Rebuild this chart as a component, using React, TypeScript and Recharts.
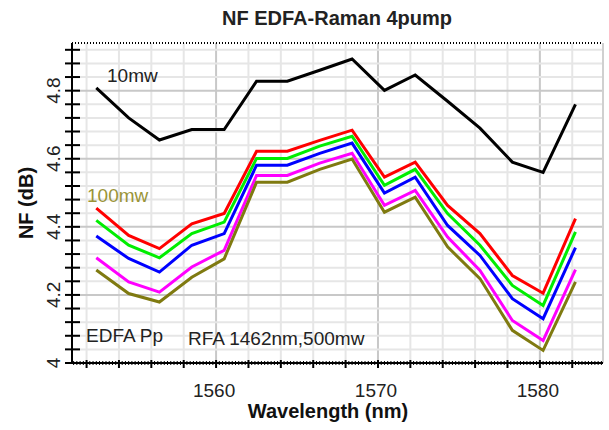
import { LineChart, Line, XAxis, YAxis, ReferenceLine } from 'recharts';

// wavelengths (nm) of the measured points
const wavelength = [1552.6, 1554.6, 1556.5, 1558.5, 1560.5, 1562.5, 1564.4, 1566.4, 1568.4, 1570.4, 1572.3, 1574.3, 1576.3, 1578.3, 1580.2, 1582.2];

// NF (dB) per EDFA pump power
const nf10mw = [4.808, 4.72, 4.655, 4.686, 4.686, 4.828, 4.828, 4.86, 4.893, 4.801, 4.846, 4.769, 4.69, 4.59, 4.56, 4.76];
const nfRed = [4.455, 4.375, 4.336, 4.409, 4.439, 4.622, 4.622, 4.654, 4.684, 4.546, 4.59, 4.463, 4.38, 4.257, 4.205, 4.424];
const nfGreen = [4.419, 4.346, 4.309, 4.38, 4.414, 4.601, 4.601, 4.637, 4.666, 4.522, 4.569, 4.439, 4.346, 4.228, 4.169, 4.385];
const nfBlue = [4.373, 4.307, 4.267, 4.346, 4.38, 4.581, 4.581, 4.616, 4.646, 4.499, 4.546, 4.404, 4.316, 4.189, 4.13, 4.339];
const nfMagenta = [4.309, 4.238, 4.208, 4.282, 4.331, 4.551, 4.551, 4.587, 4.616, 4.463, 4.507, 4.37, 4.272, 4.125, 4.066, 4.274];
const nf100mw = [4.273, 4.204, 4.179, 4.252, 4.306, 4.531, 4.531, 4.569, 4.599, 4.443, 4.487, 4.341, 4.248, 4.096, 4.037, 4.238];

const xLabels = [1560, 1570, 1580];
const yLabels = [4, 4.2, 4.4, 4.6, 4.8];

const X_MIN = 1551.1;
const X_MAX = 1583.9;
const Y_MIN = 4;
const Y_MAX = 4.94;

const data = wavelength.map((w, i) => ({
  w,
  p10: nf10mw[i],
  red: nfRed[i],
  green: nfGreen[i],
  blue: nfBlue[i],
  magenta: nfMagenta[i],
  p100: nf100mw[i],
}));

const series = [
  { key: 'p10', color: '#000000' },
  { key: 'red', color: '#ff0000' },
  { key: 'green', color: '#00ee00' },
  { key: 'blue', color: '#0000ff' },
  { key: 'magenta', color: '#ff00ff' },
  { key: 'p100', color: '#7f7a10' },
];

// tick positions: minor x ticks every 0.2 nm, y ticks every 0.04 dB
const xTicks = Array.from({ length: 164 }, (_, i) => Math.round((1551.2 + i * 0.2) * 10) / 10);
const yTicks = Array.from({ length: 24 }, (_, i) => Math.round((4 + i * 0.04) * 100) / 100);
const xGrid = Array.from({ length: 16 }, (_, i) => 1552 + i * 2);

const near = (a: number, b: number) => Math.abs(a - b) < 1e-6;
const font = 'Arial, "Liberation Sans", sans-serif';

function XTick({ x, y, payload }: any) {
  const v = payload.value;
  const even = near(v / 2, Math.round(v / 2));
  const label = xLabels.find((l) => near(l, v));
  return (
    <g>
      <line x1={x} x2={x} y1={even ? y - 3 : y - 2} y2={even ? y + 5 : y + 2} stroke="#000" strokeWidth={even ? 2 : 1} />
      {label !== undefined && (
        <text x={x - 2} y={y + 34} textAnchor="middle" fontSize={19} fontFamily={font} fill="#222">
          {label}
        </text>
      )}
    </g>
  );
}

function YTick({ x, y, payload }: any) {
  const v = payload.value;
  const label = yLabels.find((l) => near(l, v));
  return (
    <g>
      <line x1={x - 7} x2={x + 8} y1={y} y2={y} stroke="#000" strokeWidth={2} />
      {label !== undefined && (
        <text transform={`translate(${x - 12},${y}) rotate(-90)`} textAnchor="middle" fontSize={19} fontFamily={font} fill="#222">
          {String(label)}
        </text>
      )}
    </g>
  );
}

export default function App() {
  return (
    <div style={{ position: 'absolute', left: 0, top: 0, width: 609, height: 430, background: '#fff' }}>
      <LineChart width={609} height={430} data={data} margin={{ top: 43, right: 6, bottom: 37, left: 22 }}>
        {xGrid.map((g) => (
          <ReferenceLine key={'x' + g} x={g} stroke={g % 10 === 0 ? '#c8c8c8' : '#e6e6e6'} strokeWidth={2} />
        ))}
        {yTicks.slice(1).map((g) => (
          <ReferenceLine key={'y' + g} y={g} stroke={yLabels.some((l) => near(l, g)) ? '#c8c8c8' : '#e6e6e6'} strokeWidth={2} />
        ))}
        <ReferenceLine x={X_MAX} stroke="#d0d0d0" strokeWidth={2} />
        <ReferenceLine y={Y_MAX} stroke="#000" strokeWidth={2} strokeDasharray="1 2" />
        <XAxis
          dataKey="w"
          type="number"
          domain={[X_MIN, X_MAX]}
          allowDataOverflow
          ticks={xTicks}
          interval={0}
          tick={<XTick />}
          tickLine={false}
          tickSize={0}
          tickMargin={0}
          height={30}
          axisLine={{ stroke: '#000', strokeWidth: 2 }}
        />
        <YAxis
          type="number"
          domain={[Y_MIN, Y_MAX]}
          allowDataOverflow
          ticks={yTicks}
          interval={0}
          tick={<YTick />}
          tickLine={false}
          tickSize={0}
          tickMargin={0}
          width={50}
          axisLine={{ stroke: '#000', strokeWidth: 2 }}
        />
        {series.map((s) => (
          <Line key={s.key} type="linear" dataKey={s.key} stroke={s.color} strokeWidth={3} dot={false} isAnimationActive={false} />
        ))}
      </LineChart>
      <svg width={609} height={430} style={{ position: 'absolute', left: 0, top: 0, pointerEvents: 'none' }}>
        <text x={337} y={25} textAnchor="middle" fontSize={20} fontWeight="bold" fontFamily={font} fill="#222">
          NF EDFA-Raman 4pump
        </text>
        <text x={328} y={418} textAnchor="middle" fontSize={20} fontWeight="bold" fontFamily={font} fill="#111">
          Wavelength (nm)
        </text>
        <text transform="translate(33,203) rotate(-90)" textAnchor="middle" fontSize={20} fontWeight="bold" fontFamily={font} fill="#111">
          NF (dB)
        </text>
        <text x={107} y={82} fontSize={19} fontFamily={font} fill="#222">10mw</text>
        <text x={87} y={202} fontSize={19} fontFamily={font} fill="#9a9438">100mw</text>
        <text x={86} y={342} fontSize={19} fontFamily={font} fill="#222">EDFA Pp</text>
        <text x={188} y={345} fontSize={19} fontFamily={font} fill="#222">RFA 1462nm,500mw</text>
      </svg>
    </div>
  );
}
